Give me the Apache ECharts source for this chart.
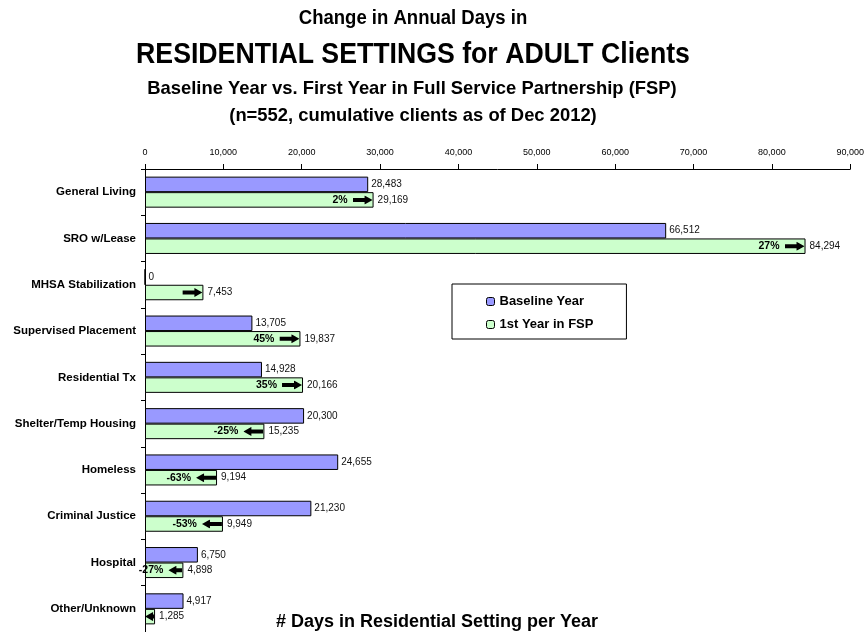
<!DOCTYPE html>
<html>
<head>
<meta charset="utf-8">
<script src="https://cdn.jsdelivr.net/npm/echarts@6/dist/echarts.min.js"></script>
<style>
  html, body { margin: 0; padding: 0; background: #fff; }
  #chart { width: 867px; height: 632px; }
</style>
</head>
<body>
<div id="chart"></div>
<script>
// data
var categories = ['General Living', 'SRO w/Lease', 'MHSA Stabilization', 'Supervised Placement',
  'Residential Tx', 'Shelter/Temp Housing', 'Homeless', 'Criminal Justice', 'Hospital', 'Other/Unknown'];
var baselineDays = [28483, 66512, 0, 13705, 14928, 20300, 24655, 21230, 6750, 4917];
var fspDays = [29169, 84294, 7453, 19837, 20166, 15235, 9194, 9949, 4898, 1285];
var changeLabels = ['2%', '27%', '', '45%', '35%', '-25%', '-63%', '-53%', '-27%', ''];
var xMin = 0, xMax = 90000, xStep = 10000;

var FONT = '"Liberation Sans", Arial, sans-serif';
var plotWidth = 706;

// black block arrow, head length fixed, shaft takes the rest
function arrowImg(dir, w) {
  var h = 9, head = 8, s1 = 2.5, s2 = 6.5;
  var pts = dir === 'r'
    ? [[0, s1], [w - head, s1], [w - head, 0], [w, h / 2], [w - head, h], [w - head, s2], [0, s2]]
    : [[w, s1], [head, s1], [head, 0], [0, h / 2], [head, h], [head, s2], [w, s2]];
  var svg = '<svg xmlns="http://www.w3.org/2000/svg" width="' + w + '" height="' + h +
    '" viewBox="0 0 ' + w + ' ' + h + '"><polygon points="' +
    pts.map(function (p) { return p.join(','); }).join(' ') + '" fill="#000"/></svg>';
  return 'data:image/svg+xml;charset=utf-8,' + encodeURIComponent(svg);
}

// arrows shrink on very short bars
function arrowWidth(i) {
  var barLen = fspDays[i] / xMax * plotWidth;
  return Math.round(Math.min(20, Math.max(9, barLen - 24)));
}
function arrowKey(i) {
  return (fspDays[i] >= baselineDays[i] ? 'r' : 'l') + arrowWidth(i);
}

var changeRich = {
  p: { fontSize: 10.5, fontWeight: 'bold', color: '#000', padding: [0, 5, 0, 0] }
};
fspDays.forEach(function (v, i) {
  var k = arrowKey(i);
  changeRich[k] = { width: arrowWidth(i), height: 9, backgroundColor: { image: arrowImg(k.charAt(0), arrowWidth(i)) } };
});

var myChart = echarts.init(document.getElementById('chart'));

var option = {
  animation: false,
  backgroundColor: '#fff',
  textStyle: { fontFamily: FONT },
  graphic: [
    { type: 'text', x: 413, y: 19, scaleX: 0.95, style: { text: 'Change in Annual Days in', font: 'bold 19.5px ' + FONT, fill: '#000', textAlign: 'center', textVerticalAlign: 'middle' } },
    { type: 'text', x: 413, y: 55, scaleX: 0.92, style: { text: 'RESIDENTIAL SETTINGS for ADULT Clients', font: 'bold 29px ' + FONT, fill: '#000', textAlign: 'center', textVerticalAlign: 'middle' } },
    { type: 'text', x: 412, y: 89, style: { text: 'Baseline Year vs. First Year in Full Service Partnership (FSP)', font: 'bold 18.4px ' + FONT, fill: '#000', textAlign: 'center', textVerticalAlign: 'middle' } },
    { type: 'text', x: 413, y: 116, style: { text: '(n=552, cumulative clients as of Dec 2012)', font: 'bold 18.4px ' + FONT, fill: '#000', textAlign: 'center', textVerticalAlign: 'middle' } },
    { type: 'text', x: 437, y: 622, style: { text: '# Days in Residential Setting per Year', font: 'bold 18px ' + FONT, fill: '#000', textAlign: 'center', textVerticalAlign: 'middle' } }
  ],
  legend: {
    data: ['Baseline Year', '1st Year in FSP'],
    orient: 'vertical',
    left: 452,
    top: 284,
    borderColor: '#000',
    borderWidth: 1,
    padding: [11, 33, 8, 34],
    itemGap: 10,
    itemWidth: 8,
    itemHeight: 8,
    itemStyle: { borderColor: '#000', borderWidth: 1 },
    textStyle: { fontSize: 13, fontWeight: 'bold', color: '#000', fontFamily: FONT }
  },
  grid: {
    left: 145,
    top: 169,
    width: plotWidth,
    height: 465
  },
  xAxis: {
    type: 'value',
    position: 'top',
    min: xMin,
    max: xMax,
    interval: xStep,
    splitLine: { show: false },
    axisLine: { show: true, lineStyle: { color: '#000', width: 1 } },
    axisTick: { show: true, length: 5, lineStyle: { color: '#000' } },
    axisLabel: {
      margin: 12,
      fontSize: 9,
      color: '#000',
      formatter: function (v) { return v.toLocaleString('en-US'); }
    }
  },
  yAxis: {
    type: 'category',
    inverse: true,
    data: categories,
    axisLine: { show: true, lineStyle: { color: '#000', width: 1 } },
    axisTick: { show: true, length: 4, lineStyle: { color: '#000' } },
    axisLabel: { margin: 9, fontSize: 11.5, fontWeight: 'bold', color: '#000' }
  },
  series: [
    {
      name: 'Baseline Year',
      type: 'bar',
      data: baselineDays,
      barGap: 0,
      barCategoryGap: '33%',
      itemStyle: { color: '#9999FF', borderColor: '#000', borderWidth: 1 },
      label: {
        show: true,
        position: 'right',
        distance: 3,
        fontSize: 10,
        color: '#111',
        formatter: function (p) { return p.value.toLocaleString('en-US'); }
      }
    },
    {
      name: '1st Year in FSP',
      type: 'bar',
      stack: 'fsp',
      stackStrategy: 'all',
      data: fspDays,
      barGap: 0,
      barCategoryGap: '33%',
      itemStyle: { color: '#CCFFCC', borderColor: '#000', borderWidth: 1 },
      label: {
        show: true,
        position: 'right',
        distance: 4,
        fontSize: 10,
        color: '#111',
        formatter: function (p) { return p.value.toLocaleString('en-US'); }
      }
    },
    {
      // zero-length bar at the end of each FSP bar, carries the % change and arrow
      name: 'change',
      type: 'bar',
      stack: 'fsp',
      stackStrategy: 'all',
      data: fspDays.map(function () { return 0; }),
      barGap: 0,
      barCategoryGap: '33%',
      itemStyle: { color: 'transparent', borderWidth: 0 },
      silent: true,
      label: {
        show: true,
        position: 'left',
        distance: 1,
        formatter: function (p) {
          var i = p.dataIndex;
          var arrow = '{' + arrowKey(i) + '|}';
          return changeLabels[i] ? '{p|' + changeLabels[i] + '}' + arrow : arrow;
        },
        rich: changeRich
      }
    }
  ]
};

myChart.setOption(option);
window.addEventListener('resize', function () {
  myChart.resize();
});
</script>
</body>
</html>
